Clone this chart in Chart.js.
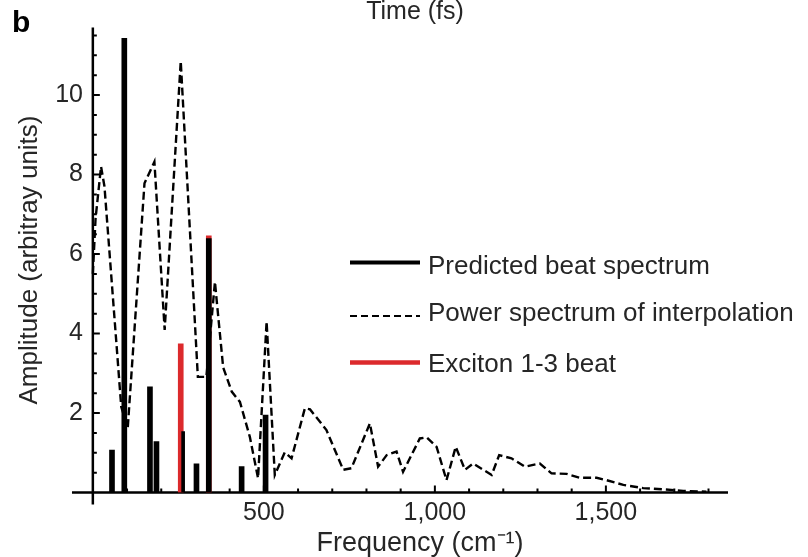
<!DOCTYPE html>
<html>
<head>
<meta charset="utf-8">
<script src="https://cdn.jsdelivr.net/npm/chart.js@4.4.0/dist/chart.umd.min.js"></script>
<style>
  html, body { margin: 0; padding: 0; background: #fff; }
</style>
</head>
<body>
<canvas id="beatChart" width="808" height="557"></canvas>
<script>
// Predicted beat spectrum (black sticks), frequency in cm-1
const beatFreq = [56, 92, 167, 186, 303, 339, 435, 505];
const beatAmp = [1.07, 11.43, 2.66, 1.28, 0.72, 6.39, 0.65, 1.95];
// the narrow stick right next to the red one
const narrowBeatFreq = [264];
const narrowBeatAmp = [1.53];
// Exciton 1-3 beat (red sticks)
const excitonFreq = [257, 339];
const excitonAmp = [3.74, 6.46];
// Power spectrum of interpolation (dashed curve)
const powerFreq = [0, 8, 24, 34, 83, 102, 151, 180, 210, 257,
  307, 332, 357, 362, 381, 406, 430, 459, 483, 508,
  513, 532, 561, 581, 620, 635, 664, 683, 732, 756,
  810, 834, 859, 888, 907, 956, 976, 1005, 1034, 1061,
  1088, 1112, 1166, 1188, 1224, 1263, 1307, 1341, 1385, 1424,
  1473, 1502, 1551, 1609, 1668, 1726, 1794];
const powerAmp = [5.5, 6.9, 8.2, 7.7, 2.16, 1.62, 7.78, 8.32, 4.09, 10.85,
  2.91, 2.91, 5.3, 4.84, 3.15, 2.54, 2.28, 1.4, 0.36, 4.3,
  3.5, 0.44, 1.01, 0.86, 2.12, 2.09, 1.78, 1.57, 0.57, 0.61,
  1.74, 0.65, 0.94, 1.03, 0.52, 1.36, 1.39, 1.15, 0.31, 1.15,
  0.57, 0.73, 0.44, 0.94, 0.86, 0.65, 0.73, 0.48, 0.47, 0.37,
  0.37, 0.31, 0.19, 0.11, 0.08, 0.04, 0.02];

const xTickValues = [500, 1000, 1500];
const yTickValues = [2, 4, 6, 8, 10];
const legendLabels = ['Predicted beat spectrum', 'Power spectrum of interpolation', 'Exciton 1-3 beat'];

const FONT = '"Liberation Sans", Arial, Helvetica, sans-serif';
const TEXT = '#262626';
const RED = '#dc2a2c';

const toPoints = (xs, ys) => xs.map((x, i) => ({ x, y: ys[i] }));

// axis lines + inward ticks like the original figure
const axesPlugin = {
  id: 'axesPlugin',
  beforeDatasetsDraw(chart) {
    const { ctx, scales: { x, y } } = chart;
    const x0 = x.getPixelForValue(0);
    const y0 = y.getPixelForValue(0);
    ctx.save();
    ctx.strokeStyle = '#000';
    ctx.lineWidth = 2.5;
    ctx.beginPath();
    ctx.moveTo(x.getPixelForValue(-61), y0);
    ctx.lineTo(x.getPixelForValue(1857), y0);
    ctx.moveTo(x0, y.getPixelForValue(y.max));
    ctx.lineTo(x0, y0 + 12);
    ctx.stroke();
    ctx.lineWidth = 2;
    ctx.beginPath();
    for (let v = 0.5; v <= 11.5; v += 0.5) {
      const len = v % 2 === 0 ? 7 : 4;
      const py = y.getPixelForValue(v);
      ctx.moveTo(x0, py);
      ctx.lineTo(x0 + len, py);
    }
    for (let f = 100; f <= 1800; f += 100) {
      const len = f % 500 === 0 ? 7 : 4;
      const px = x.getPixelForValue(f);
      ctx.moveTo(px, y0);
      ctx.lineTo(px, y0 - len);
    }
    ctx.stroke();
    ctx.restore();
  }
};

// legend inside the plot, x title, panel letter and cut-off top caption
const extrasPlugin = {
  id: 'extrasPlugin',
  afterDraw(chart) {
    const ctx = chart.ctx;
    ctx.save();
    const rows = [262.5, 316, 362.5];
    const styles = [
      { color: '#000', width: 4, dash: [] },
      { color: '#000', width: 2, dash: [7, 4] },
      { color: RED, width: 4.5, dash: [] }
    ];
    rows.forEach((ry, i) => {
      ctx.strokeStyle = styles[i].color;
      ctx.lineWidth = styles[i].width;
      ctx.setLineDash(styles[i].dash);
      ctx.beginPath();
      ctx.moveTo(350, ry);
      ctx.lineTo(420, ry);
      ctx.stroke();
    });
    ctx.setLineDash([]);
    ctx.fillStyle = TEXT;
    ctx.font = '26px ' + FONT;
    ctx.textBaseline = 'alphabetic';
    ctx.textAlign = 'left';
    const baselines = [273.5, 321, 371.5];
    legendLabels.forEach((t, i) => ctx.fillText(t, 428, baselines[i]));

    ctx.textAlign = 'center';
    ctx.font = '27px ' + FONT;
    ctx.fillText('Frequency (cm⁻¹)', 420, 551);

    ctx.font = '25px ' + FONT;
    ctx.fillText('Time (fs)', 415, 19);
    ctx.textAlign = 'left';
    ctx.font = 'bold 30px ' + FONT;
    ctx.fillStyle = '#000';
    ctx.fillText('b', 12, 32);
    ctx.restore();
  }
};

new Chart(document.getElementById('beatChart'), {
  type: 'bar',
  data: {
    datasets: [
      {
        type: 'line',
        label: legendLabels[1],
        data: toPoints(powerFreq, powerAmp),
        borderColor: '#000',
        borderWidth: 2.4,
        borderDash: [8, 4],
        pointRadius: 0,
        tension: 0,
        fill: false,
        order: 0
      },
      {
        label: legendLabels[0],
        data: toPoints(beatFreq, beatAmp),
        backgroundColor: '#000',
        barThickness: 5,
        grouped: false,
        order: 1
      },
      {
        label: legendLabels[0],
        data: toPoints(narrowBeatFreq, narrowBeatAmp),
        backgroundColor: '#000',
        barThickness: 3,
        grouped: false,
        order: 1
      },
      {
        label: legendLabels[2],
        data: toPoints(excitonFreq, excitonAmp),
        backgroundColor: RED,
        barThickness: 5,
        grouped: false,
        order: 2
      }
    ]
  },
  options: {
    responsive: false,
    animation: false,
    layout: { padding: { top: 27.5, right: 80, bottom: 0, left: 0 } },
    plugins: {
      legend: { display: false },
      tooltip: { enabled: false }
    },
    scales: {
      x: {
        type: 'linear',
        offset: false,
        min: -20,
        max: 1857,
        grid: { display: false, drawTicks: false },
        border: { display: false },
        afterFit: (s) => { s.height = 64.5; },
        afterBuildTicks: (s) => { s.ticks = xTickValues.map((v) => ({ value: v })); },
        ticks: {
          padding: 6,
          color: TEXT,
          maxRotation: 0,
          autoSkip: false,
          font: { family: FONT, size: 25 },
          callback: (v) => v.toLocaleString('en-US')
        }
      },
      y: {
        min: 0,
        max: 11.7,
        grid: { display: false, drawTicks: false },
        border: { display: false },
        afterFit: (s) => { s.width = 86; },
        afterBuildTicks: (s) => { s.ticks = yTickValues.map((v) => ({ value: v })); },
        ticks: {
          padding: 3,
          color: TEXT,
          font: { family: FONT, size: 25 }
        },
        title: {
          display: true,
          text: 'Amplitude (arbitray units)',
          color: TEXT,
          font: { family: FONT, size: 26 },
          padding: { top: 14, bottom: 14 }
        }
      }
    }
  },
  plugins: [axesPlugin, extrasPlugin]
});
</script>
</body>
</html>
